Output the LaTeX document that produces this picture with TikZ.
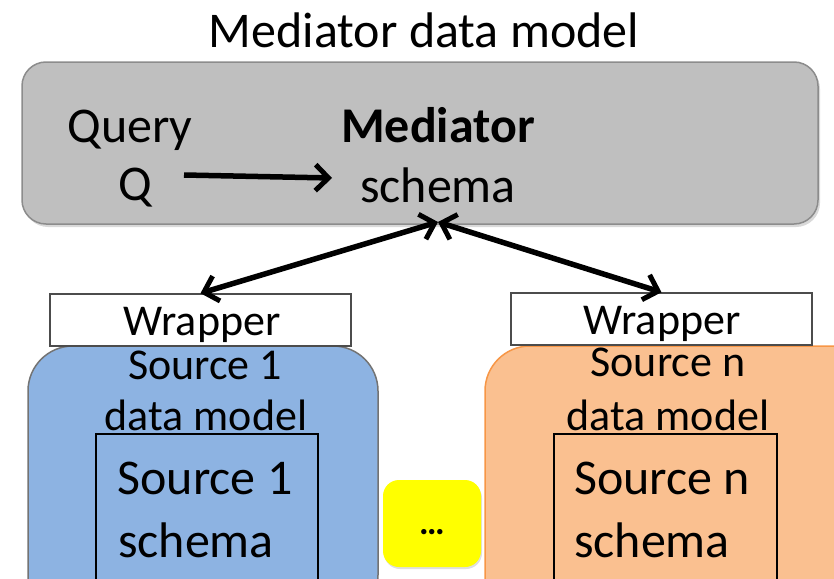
\documentclass[tikz,border=0pt]{standalone}
\usepackage{fontspec}
\setmainfont{Carlito}
\usetikzlibrary{arrows.meta,shadows}
\definecolor{medgray}{HTML}{BFBFBF}
\definecolor{srcblue}{HTML}{8DB3E2}
\definecolor{srcorange}{HTML}{FAC090}
\definecolor{orangeline}{HTML}{F79646}
\definecolor{dotyellow}{HTML}{FFFF00}
\begin{document}
\begin{tikzpicture}[x=1pt,y=-1pt,
  txt/.style={font=\fontsize{50}{60}\selectfont, inner sep=0pt, anchor=center},
  small/.style={font=\fontsize{44}{52}\selectfont, inner sep=0pt, anchor=center},
  barb/.tip={Straight Barb[length=13pt,width=26pt,line width=5pt]},
  conn/.style={line width=5.5pt, -barb},
  dconn/.style={line width=5.5pt, barb-barb},
  wrapbox/.style={draw=black!70, fill=white, line width=1.5pt},
  innerbox/.style={draw=black, line width=1.5pt}
]
\useasboundingbox (0,0) rectangle (834,578);
\clip (0,0) rectangle (834,578);
% title
\node[txt] (title) at (424,30) {Mediator data model};
% mediator box
\draw[fill=medgray, draw=black!45, line width=1.5pt, rounded corners=24pt,
  drop shadow={shadow xshift=2pt, shadow yshift=-3pt, opacity=0.3}]
  (22,62) rectangle (818,224);
\node[txt] (query) at (130,130) {Query};
\node[txt] (q) at (135,188) {Q};
\node[txt] (med) at (438,125) {\bfseries Mediator};
\node[txt] (schema) at (438,185) {schema};
\coordinate (qa) at (184,175);
\coordinate (qb) at (332,178);
\draw[conn] (qa) -- (qb);
% blue source
\draw[fill=srcblue, draw=black!55, line width=1.5pt, rounded corners=45pt]
  (28,346) rectangle (378,620);
\draw[innerbox, fill=srcblue] (96,434) rectangle (318,620);
\node[small] (s1a) at (205,365) {Source 1};
\node[small] (s1b) at (206,415) {data model};
\node[txt] (s1c) at (205,478) {Source 1};
\node[txt] (s1d) at (196,540) {schema};
% orange source
\draw[fill=srcorange, draw=orangeline, line width=1.5pt, rounded corners=45pt]
  (485,346) rectangle (880,620);
\draw[innerbox, fill=srcorange] (554,434) rectangle (777,620);
\node[small] (sna) at (668,362) {Source n};
\node[small] (snb) at (668,415) {data model};
\node[txt] (snc) at (662,478) {Source n};
\node[txt] (snd) at (652,540) {schema};
% wrappers
\node[wrapbox, minimum width=301pt, minimum height=52pt, inner sep=0pt] (w1) at (200.5,320) {};
\node[small] (w1t) at (202,325) {Wrapper};
\node[wrapbox, minimum width=301pt, minimum height=52pt, inner sep=0pt] (wn) at (661.5,319) {};
\node[small] (wnt) at (662,324) {Wrapper};
% dots
\draw[fill=dotyellow, draw=none, rounded corners=16pt,
  drop shadow={shadow xshift=1pt, shadow yshift=-2pt, opacity=0.25}]
  (383,480) rectangle (481,567);
\node[txt, font=\fontsize{36}{40}\selectfont\bfseries] (dots) at (432,532) {…};
% double arrows
\coordinate (top) at (438,222);
\draw[dconn] (top) -- (w1.north);
\draw[dconn] (top) -- (wn.north);
\end{tikzpicture}
\end{document}
